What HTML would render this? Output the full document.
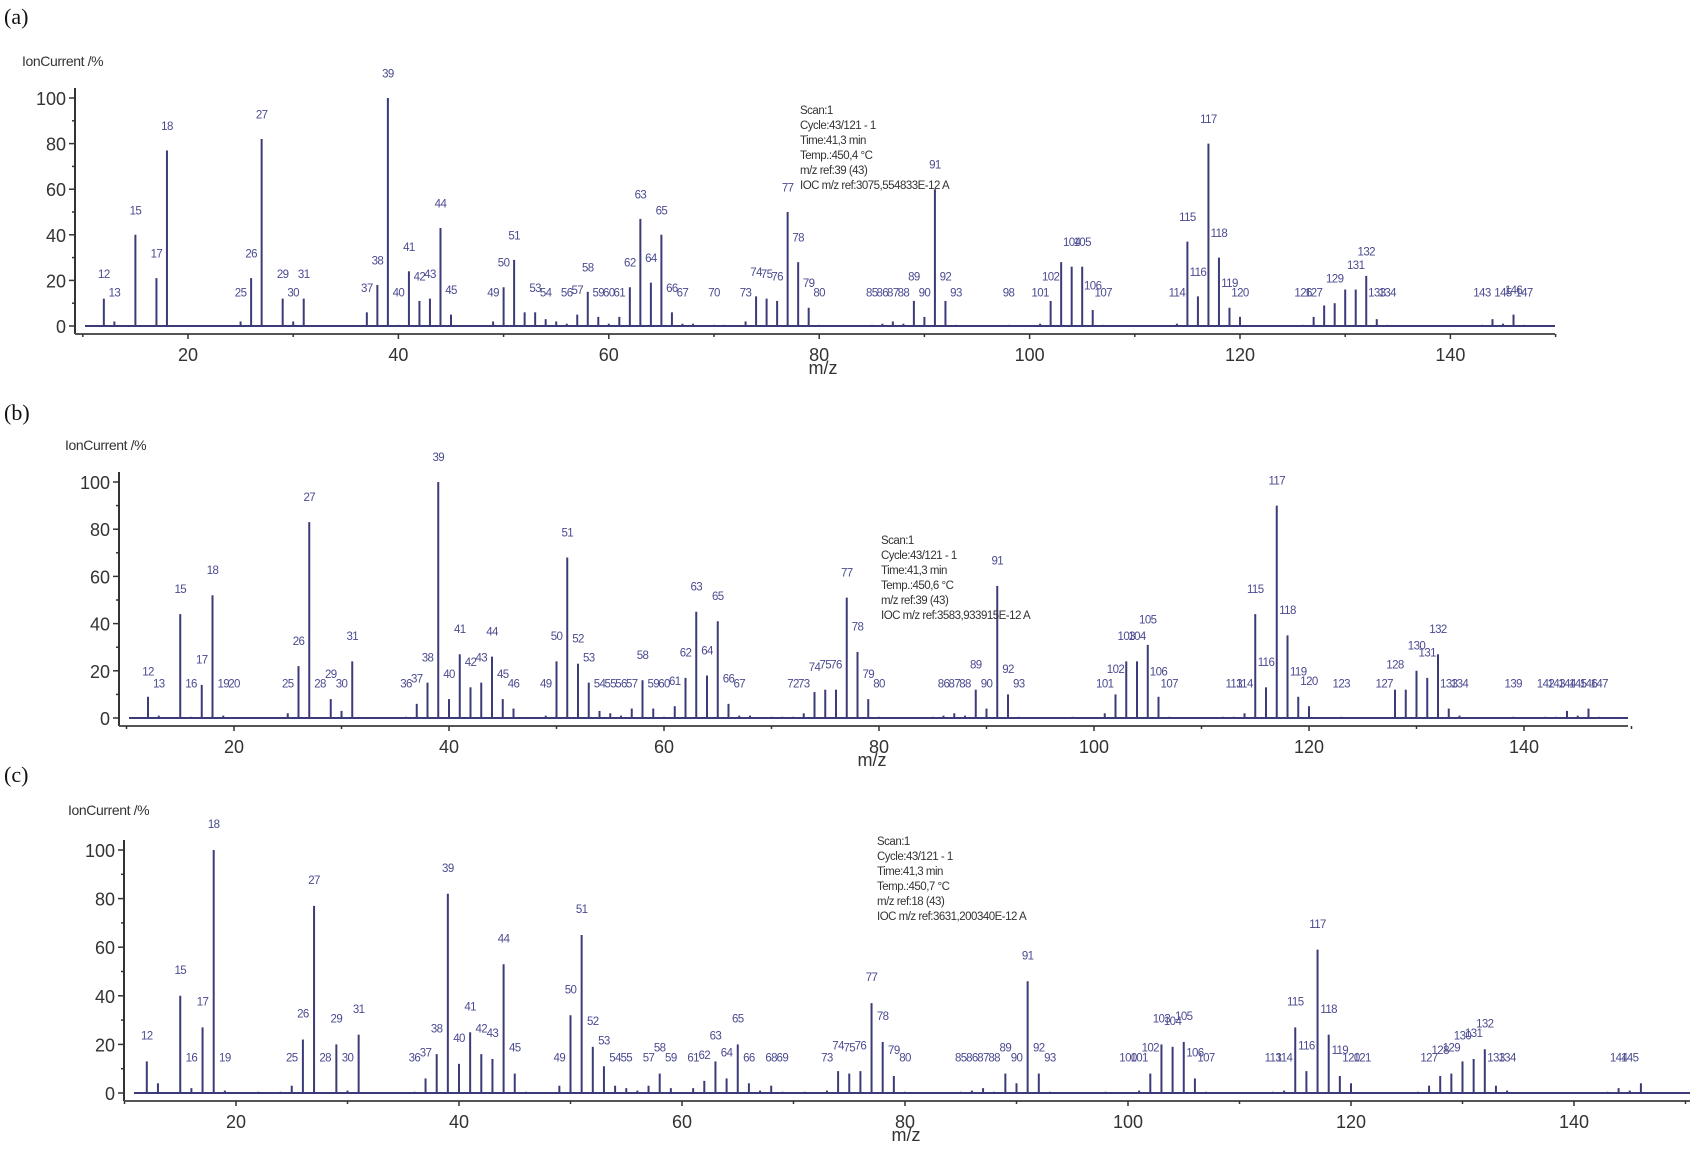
<!DOCTYPE html>
<html><head><meta charset="utf-8">
<style>
body{margin:0;background:#fff;}
svg{display:block;font-family:"Liberation Sans",sans-serif;}
.tick{font-size:18px;fill:#333;}
.pl{font-size:11.5px;fill:#4a4a90;letter-spacing:-0.6px;}
.info{font-size:11.5px;fill:#333;letter-spacing:-0.5px;}
.ttl{font-size:14px;fill:#333;letter-spacing:-0.4px;}
.pan{font-family:"Liberation Serif",serif;font-size:22px;fill:#111;}
</style></head>
<body>
<svg id="chart" width="1703" height="1153" viewBox="0 0 1703 1153"></svg>
<script>
const aMz=[12,13,15,17,18,25,26,27,29,30,31,37,38,39,40,41,42,43,44,45,49,50,51,52,53,54,55,56,57,58,59,60,61,62,63,64,65,66,67,68,70,71,73,74,75,76,77,78,79,80,85,86,87,88,89,90,91,92,93,98,101,102,103,104,105,106,107,114,115,116,117,118,119,120,126,127,128,129,130,131,132,133,134,143,144,145,146,147];
const aInt=[12,2,40,21,77,2,21,82,12,2,12,6,18,100,0.5,24,11,12,43,5,2,17,29,6,6,3,2,1,5,15,4,1,4,17,47,19,40,6,1,1,0.5,0.5,2,13,12,11,50,28,8,0.5,0.5,1,2,1,11,4,60,11,0.5,0.5,1,11,28,26,26,7,0.5,1,37,13,80,30,8,4,0.5,4,9,10,16,16,22,3,0.5,0.5,3,1,5,0.5];
const aLabels=[12,13,15,17,18,25,26,27,29,30,31,37,38,39,40,41,42,43,44,45,49,50,51,53,54,56,57,58,59,60,61,62,63,64,65,66,67,70,73,74,75,76,77,78,79,80,85,86,87,88,89,90,91,92,93,98,101,102,104,105,106,107,114,115,116,117,118,119,120,126,127,129,131,132,133,134,143,145,146,147];
const aInfo=["Scan:1","Cycle:43/121 - 1","Time:41,3 min","Temp.:450,4 °C","m/z ref:39 (43)","IOC m/z ref:3075,554833E-12 A"];

const bMz=[12,13,15,16,17,18,19,25,26,27,29,30,31,36,37,38,39,40,41,42,43,44,45,46,49,50,51,52,53,54,55,56,57,58,59,60,61,62,63,64,65,66,67,68,70,71,72,73,74,75,76,77,78,79,80,85,86,87,88,89,90,91,92,93,98,101,102,103,104,105,106,107,112,113,114,115,116,117,118,119,120,123,128,129,130,131,132,133,134,139,142,143,144,145,146,147];
const bInt=[9,1,44,0.5,14,52,1,2,22,83,8,3,24,0.5,6,15,100,8,27,13,15,26,8,4,1,24,68,23,15,3,2,1,4,16,4,0.5,5,17,45,18,41,6,1,1,0.5,0.5,0.5,2,11,12,12,51,28,8,0.5,0.5,1,2,1,12,4,56,10,0.5,0.5,2,10,24,24,31,9,0.5,0.5,0.5,2,44,13,90,35,9,5,0.5,12,12,20,17,27,4,1,0.5,0.5,0.5,3,1,4,0.5];
const bLabels=[12,13,15,16,17,18,19,20,25,26,27,28,29,30,31,36,37,38,39,40,41,42,43,44,45,46,49,50,51,52,53,54,55,56,57,58,59,60,61,62,63,64,65,66,67,72,73,74,75,76,77,78,79,80,86,87,88,89,90,91,92,93,101,102,103,104,105,106,107,113,114,115,116,117,118,119,120,123,127,128,130,131,132,133,134,139,142,143,144,145,146,147];
const bInfo=["Scan:1","Cycle:43/121 - 1","Time:41,3 min","Temp.:450,6 °C","m/z ref:39 (43)","IOC m/z ref:3583,933915E-12 A"];

const cMz=[12,13,15,16,17,18,19,22,24,25,26,27,29,30,31,36,37,38,39,40,41,42,43,44,45,46,49,50,51,52,53,54,55,56,57,58,59,61,62,63,64,65,66,67,68,69,71,73,74,75,76,77,78,79,80,85,86,87,88,89,90,91,92,93,98,101,102,103,104,105,106,107,113,114,115,116,117,118,119,120,126,127,128,129,130,131,132,133,134,143,144,145,146];
const cInt=[13,4,40,2,27,100,1,0.5,0.5,3,22,77,20,1,24,0.5,6,16,82,12,25,16,14,53,8,0.5,3,32,65,19,11,3,2,1,3,8,2,2,5,13,6,20,4,1,3,0.5,0.5,1,9,8,9,37,21,7,0.5,0.5,1,2,0.5,8,4,46,8,0.5,0.5,1,8,20,19,21,6,0.5,0.5,1,27,9,59,24,7,4,0.5,3,7,8,13,14,18,3,1,0.5,2,1,4];
const cLabels=[12,15,16,17,18,19,25,26,27,28,29,30,31,36,37,38,39,40,41,42,43,44,45,49,50,51,52,53,54,55,57,58,59,61,62,63,64,65,66,68,69,73,74,75,76,77,78,79,80,85,86,87,88,89,90,91,92,93,100,101,102,103,104,105,106,107,113,114,115,116,117,118,119,120,121,127,128,129,130,131,132,133,134,144,145];
const cInfo=["Scan:1","Cycle:43/121 - 1","Time:41,3 min","Temp.:450,7 °C","m/z ref:18 (43)","IOC m/z ref:3631,200340E-12 A"];

const yTicks=[0,20,40,60,80,100];
const xTicks=[20,40,60,80,100,120,140];

const svg=document.getElementById('chart');
const NS='http://www.w3.org/2000/svg';
function mk(tag,attrs,parent,text){const e=document.createElementNS(NS,tag);for(const k in attrs)e.setAttribute(k,attrs[k]);if(text!==undefined)e.textContent=text;parent.appendChild(e);return e;}

function panel(id,cfg,mz,inten,labels,info){
  const g=mk('g',{},svg);
  
  
  const X=m=>cfg.x20+(m-20)*cfg.ppu;
  const Y=v=>cfg.y0-(cfg.y0-cfg.y100)*v/100;
  let t=mk('text',{x:cfg.panX,y:cfg.panY,class:'pan'},g,'('+id+')');
  
  t=mk('text',{x:cfg.ttlX,y:cfg.ttlY,class:'ttl'},g,'IonCurrent /%');
  
  const axY=cfg.y0+8;
  let l=mk('line',{x1:cfg.axX,y1:cfg.y100-10,x2:cfg.axX,y2:axY,stroke:'#333','stroke-width':2},g);
  
  for(let v=0;v<=100;v+=10){mk('line',{x1:cfg.axX-(v%20?3:6),y1:Y(v),x2:cfg.axX,y2:Y(v),stroke:'#333','stroke-width':1.5},g);}
  yTicks.forEach(v=>{const tt=mk('text',{x:cfg.axX-9,y:Y(v)+7,class:'tick','text-anchor':'end'},g,String(v));
    });
  l=mk('line',{x1:cfg.axX,y1:axY,x2:cfg.right,y2:axY,stroke:'#555','stroke-width':2},g);
  
  for(let m=10;m<=150;m+=10){mk('line',{x1:X(m),y1:axY,x2:X(m),y2:axY+(m%20?3:5),stroke:'#333','stroke-width':1.5},g);}
  xTicks.forEach(m=>{const tt=mk('text',{x:X(m),y:axY+27,class:'tick','text-anchor':'middle'},g,String(m));
    });
  t=mk('text',{x:cfg.mzX,y:axY+40,class:'tick','text-anchor':'middle','font-size':'16'},g,'m/z');
  
  l=mk('line',{x1:cfg.axX+10,y1:cfg.y0,x2:cfg.right,y2:cfg.y0,stroke:'#3b3b7a','stroke-width':2},g);
  
  mz.forEach((m,i)=>{const p=mk('line',{x1:X(m),y1:cfg.y0,x2:X(m),y2:Y(inten[i]),stroke:'#3b3b7a','stroke-width':2},g);
    });
  labels.forEach(m=>{const i=mz.indexOf(m);const v=i>=0?inten[i]:0;
    const tt=mk('text',{x:X(m),y:Y(Math.max(v,4)+9),class:'pl','text-anchor':'middle'},g,String(m));
    });
  const ig=mk('g',{},g);
  
  info.forEach((s,k)=>{mk('text',{x:cfg.infoX,y:cfg.infoY+k*15,class:'info'},ig,s);});
}
panel('a',{x20:188,ppu:10.52,y100:98,y0:326,axX:75,right:1555,panX:4,panY:24,ttlX:22,ttlY:66,mzX:823,infoX:800,infoY:114},aMz,aInt,aLabels,aInfo);
panel('b',{x20:234,ppu:10.75,y100:482,y0:718,axX:119,right:1628,panX:4,panY:420,ttlX:65,ttlY:450,mzX:872,infoX:881,infoY:544},bMz,bInt,bLabels,bInfo);
panel('c',{x20:236,ppu:11.15,y100:850,y0:1093,axX:124,right:1690,panX:4,panY:782,ttlX:68,ttlY:815,mzX:906,infoX:877,infoY:845},cMz,cInt,cLabels,cInfo);
</script>
</body></html>
